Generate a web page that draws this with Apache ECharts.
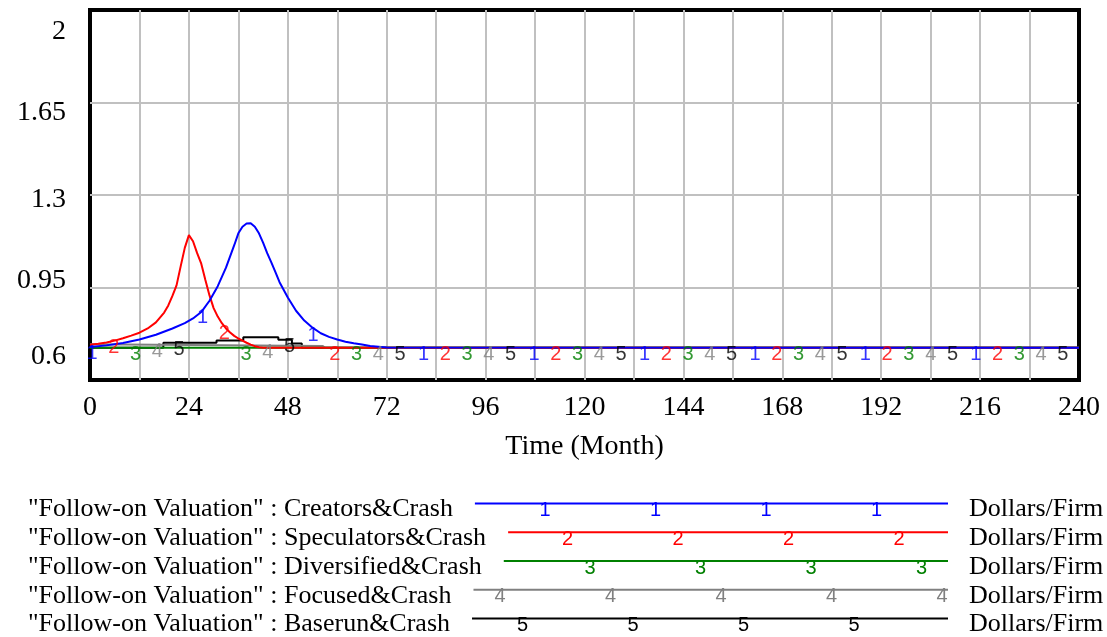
<!DOCTYPE html>
<html>
<head>
<meta charset="utf-8">
<script src="https://cdn.jsdelivr.net/npm/echarts@6/dist/echarts.min.js"></script>
<style>
  html, body { margin: 0; padding: 0; background: #fff; }
  #chart { width: 1107px; height: 637px; }
</style>
</head>
<body>
<div id="chart"></div>
<script>
// ---- Data: "Follow-on Valuation" runs (Dollars/Firm) over time in months ----
const creatorsMonths = [0, 4, 8, 12, 16, 20, 23, 25, 27, 29, 31, 33, 35, 36, 37, 38, 39, 40, 41, 42, 43, 44, 45, 46, 48, 50, 52, 54, 56, 58, 60, 62, 64, 66, 68, 70, 72, 240];
const creatorsValues = [0.725, 0.731, 0.740, 0.753, 0.771, 0.795, 0.815, 0.833, 0.857, 0.900, 0.955, 1.025, 1.110, 1.155, 1.180, 1.192, 1.193, 1.180, 1.155, 1.120, 1.080, 1.045, 1.008, 0.970, 0.912, 0.862, 0.825, 0.798, 0.777, 0.763, 0.753, 0.745, 0.739, 0.734, 0.729, 0.726, 0.723, 0.722];

const speculatorsMonths = [0, 2, 4, 6, 8, 10, 12, 14, 16, 18, 19, 20, 21, 22, 23, 24, 25, 26, 27, 28, 29, 30, 31, 32, 33, 34, 35, 36, 37, 38, 39, 40, 41, 42, 240];
const speculatorsValues = [0.733, 0.737, 0.742, 0.749, 0.758, 0.768, 0.779, 0.795, 0.818, 0.855, 0.882, 0.918, 0.958, 1.030, 1.100, 1.148, 1.125, 1.080, 1.040, 0.978, 0.920, 0.872, 0.840, 0.815, 0.795, 0.780, 0.767, 0.757, 0.749, 0.741, 0.734, 0.728, 0.724, 0.722, 0.722];

const diversifiedMonths = [0, 240];
const diversifiedValues = [0.722, 0.722];

const focusedMonths = [0, 56.5, 57, 240];
const focusedValues = [0.735, 0.729, 0.722, 0.722];

// Baserun changes in discrete steps (value held until the next month listed)
const baserunMonths = [0, 17.8, 30.7, 37.2, 45.7, 49, 51.4, 240];
const baserunValues = [0.722, 0.741, 0.749, 0.762, 0.752, 0.738, 0.722, 0.722];

const runNames = [
  '"Follow-on Valuation" : Creators&Crash',
  '"Follow-on Valuation" : Speculators&Crash',
  '"Follow-on Valuation" : Diversified&Crash',
  '"Follow-on Valuation" : Focused&Crash',
  '"Follow-on Valuation" : Baserun&Crash'
];
const runUnits = 'Dollars/Firm';
const xTickLabelsEvery = 24;
const yTickLabels = ['0.6', '0.95', '1.3', '1.65', '2'];

// ---- Styling ----
const SERIF = '"Liberation Serif", "Times New Roman", serif';
const NARROW = '"Liberation Sans Narrow", "Arial Narrow", "Liberation Sans", Arial, sans-serif';
const DIGIT_SIZE = 20;
const colors = ['#0000ff', '#ff0000', '#008000', '#808080', '#000000'];

const runs = [
  { months: creatorsMonths, values: creatorsValues, step: false },
  { months: speculatorsMonths, values: speculatorsValues, step: false },
  { months: diversifiedMonths, values: diversifiedValues, step: false },
  { months: focusedMonths, values: focusedValues, step: false },
  { months: baserunMonths, values: baserunValues, step: true }
];

// value of a run at time t (linear, or held for stepped runs)
function valueAt(run, t) {
  const m = run.months, v = run.values;
  if (t <= m[0]) return v[0];
  for (let i = 1; i < m.length; i++) {
    if (t <= m[i]) {
      if (run.step) return t === m[i] ? v[i] : v[i - 1];
      const f = (t - m[i - 1]) / (m[i] - m[i - 1]);
      return v[i - 1] + f * (v[i] - v[i - 1]);
    }
  }
  return v[v.length - 1];
}

// numbered run markers along each line
const MARK_FIRST = 0.5, MARK_STAGGER = 5.28, MARK_SPACING = 26.81;

const series = [];
// draw order: 5 at the bottom, 1 on top
for (let s = runs.length - 1; s >= 0; s--) {
  const run = runs[s];
  series.push({
    type: 'line',
    name: runNames[s],
    data: run.months.map((m, i) => [m, run.values[i]]),
    step: run.step ? 'end' : false,
    showSymbol: false,
    symbol: 'none',
    lineStyle: { color: colors[s], width: 2 },
    z: 3,
    silent: true,
    animation: false
  });
}
for (let s = runs.length - 1; s >= 0; s--) {
  const run = runs[s];
  const pts = [];
  for (let t = MARK_FIRST + s * MARK_STAGGER; t <= 240; t += MARK_SPACING) {
    pts.push([t, valueAt(run, t)]);
  }
  series.push({
    type: 'scatter',
    data: pts,
    symbolSize: 0,
    itemStyle: { color: colors[s] },
    label: {
      show: true,
      position: 'inside',
      offset: [0, 7],
      formatter: String(s + 1),
      color: colors[s],
      fontFamily: NARROW,
      fontSize: DIGIT_SIZE
    },
    z: 4,
    silent: true,
    animation: false
  });
}

// y labels sit slightly pulled toward the middle of the axis
const yLabelShift = [-23, -6.5, 4.5, 10.5, 22];
const yRich = {};
yTickLabels.forEach((txt, i) => {
  const d = yLabelShift[i];
  yRich['t' + i] = {
    fontFamily: SERIF, fontSize: 28, color: '#000',
    padding: d >= 0 ? [2 * d, 0, 0, 0] : [0, 0, -2 * d, 0]
  };
});

// ---- Legend block under the plot ----
const LEGEND_FONT = 26;
const LEGEND_LEFT = 28;
const LEGEND_LINE_END = 948;
const LEGEND_TOP = 503.5;
const LEGEND_ROW = 28.75;
const measureCtx = document.createElement('canvas').getContext('2d');
measureCtx.font = LEGEND_FONT + 'px ' + SERIF;

const graphic = [];
runNames.forEach((name, s) => {
  const y = LEGEND_TOP + s * LEGEND_ROW;
  const w = measureCtx.measureText(name).width;
  const x1 = LEGEND_LEFT + w + 22;
  graphic.push({
    type: 'text', x: LEGEND_LEFT, y: y + 6,
    style: { text: name, fontFamily: SERIF, fontSize: LEGEND_FONT, fill: '#000', align: 'left', verticalAlign: 'middle' }
  });
  graphic.push({
    type: 'line',
    shape: { x1: x1, y1: y, x2: LEGEND_LINE_END, y2: y },
    style: { stroke: colors[s], lineWidth: 2 }
  });
  const phase = (s + 2) % 5;
  for (let x = 500 + phase * 22.5; x <= LEGEND_LINE_END; x += 110.5) {
    if (x < x1) continue;
    graphic.push({
      type: 'text', x: x, y: y + 7,
      style: { text: String(s + 1), fontFamily: NARROW, fontSize: DIGIT_SIZE, fill: colors[s], align: 'center', verticalAlign: 'middle' }
    });
  }
  graphic.push({
    type: 'text', x: 969, y: y + 6,
    style: { text: runUnits, fontFamily: SERIF, fontSize: LEGEND_FONT, fill: '#000', align: 'left', verticalAlign: 'middle' }
  });
});

const chart = echarts.init(document.getElementById('chart'), null, { renderer: 'canvas' });
chart.setOption({
  backgroundColor: '#fff',
  animation: false,
  grid: {
    left: 90, right: 28, top: 10, bottom: 257,
    show: true, borderColor: '#000', borderWidth: 4,
    outerBoundsMode: 'none'
  },
  xAxis: {
    type: 'value',
    min: 0, max: 240, interval: 12,
    axisLine: { show: false },
    axisTick: { show: false },
    splitLine: { show: true, showMinLine: false, showMaxLine: false, lineStyle: { color: '#c0c0c0', width: 2 } },
    axisLabel: {
      formatter: v => (v % xTickLabelsEvery === 0 ? String(v) : ''),
      fontFamily: SERIF, fontSize: 28, color: '#000', margin: 14,
      showMinLabel: true, showMaxLabel: true, hideOverlap: false
    },
    name: 'Time (Month)',
    nameLocation: 'middle',
    nameGap: 53,
    nameTextStyle: { fontFamily: SERIF, fontSize: 28, color: '#000' }
  },
  yAxis: {
    type: 'value',
    min: 0.6, max: 2, interval: 0.35,
    axisLine: { show: false },
    axisTick: { show: false },
    splitLine: { show: true, showMinLine: false, showMaxLine: false, lineStyle: { color: '#c0c0c0', width: 2 } },
    axisLabel: {
      formatter: v => {
        const i = Math.round((v - 0.6) / 0.35);
        return '{t' + i + '|' + yTickLabels[i] + '}';
      },
      rich: yRich,
      fontFamily: SERIF, fontSize: 28, color: '#000', margin: 24,
      showMinLabel: true, showMaxLabel: true, hideOverlap: false
    }
  },
  series: series,
  graphic: graphic
});
</script>
</body>
</html>
